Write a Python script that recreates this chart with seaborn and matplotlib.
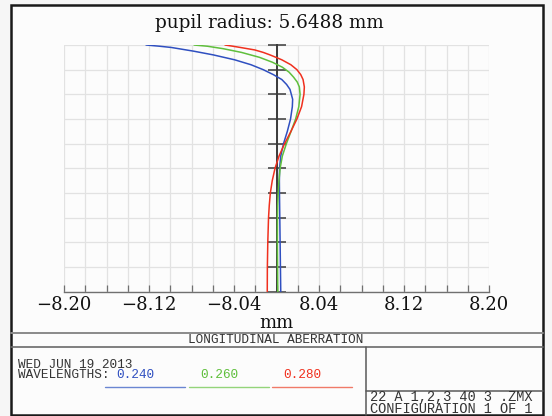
import numpy as np
import pandas as pd
import matplotlib
matplotlib.use("Agg")
import matplotlib.pyplot as plt
from matplotlib.lines import Line2D
from matplotlib.patches import Rectangle
from matplotlib.ticker import MultipleLocator
import seaborn as sns

# ---------------- data ----------------
wavelengths = ["0.240", "0.260", "0.280"]

pupil_blue = [0.0, 0.1, 0.2, 0.3, 0.4, 0.45, 0.5, 0.55, 0.6, 0.65, 0.7, 0.75,
              0.78, 0.82, 0.84, 0.86, 0.88, 0.90, 0.92, 0.94, 0.96, 0.975,
              0.99, 0.995, 1.0]
focus_blue = [0.0040, 0.0037, 0.0034, 0.0031, 0.0028, 0.0027, 0.0029, 0.0040,
              0.0066, 0.0102, 0.0132, 0.0149, 0.0152, 0.0127, 0.0095, 0.0050,
              -0.0030, -0.0125, -0.0240, -0.0394, -0.0596, -0.0780, -0.0990,
              -0.1100, -0.1228]

pupil_green = [0.0, 0.1, 0.2, 0.3, 0.35, 0.4, 0.45, 0.5, 0.55, 0.6, 0.65, 0.7,
               0.75, 0.8, 0.83, 0.85, 0.87, 0.89, 0.91, 0.93, 0.95, 0.97,
               0.985, 0.995, 1.0]
focus_green = [0.0012, 0.0010, 0.0008, 0.0009, 0.0011, 0.0016, 0.0023, 0.0034,
               0.0055, 0.0093, 0.0137, 0.0180, 0.0210, 0.0222, 0.0215, 0.0195,
               0.0160, 0.0118, 0.0055, -0.0038, -0.0160, -0.0330, -0.0501,
               -0.0650, -0.0776]

pupil_red = [0.0, 0.1, 0.2, 0.3, 0.35, 0.4, 0.45, 0.5, 0.55, 0.6, 0.65, 0.7,
             0.75, 0.8, 0.83, 0.86, 0.88, 0.90, 0.92, 0.94, 0.95, 0.96, 0.97,
             0.98, 0.99, 0.995, 1.0]
focus_red = [-0.0087, -0.0086, -0.0082, -0.0075, -0.0068, -0.0058, -0.0040,
             -0.0014, 0.0024, 0.0076, 0.0136, 0.0192, 0.0236, 0.0258, 0.0262,
             0.0250, 0.0228, 0.0192, 0.0135, 0.0050, -0.0005, -0.0062,
             -0.0125, -0.0205, -0.0340, -0.0410, -0.0485]

xtick_values = [-0.20, -0.12, -0.04, 0.04, 0.12, 0.20]
xtick_labels = ["\u22128.20", "\u22128.12", "\u22128.04", "8.04", "8.12", "8.20"]

title_text = "pupil radius: 5.6488 mm"
xlabel_text = "mm"
plot_name = "LONGITUDINAL ABERRATION"
date_text = "WED JUN 19 2013"
wl_label = "WAVELENGTHS:"
file_text = "22 A 1,2,3 40 3 .ZMX"
config_text = "CONFIGURATION 1 OF 1"

line_colors = ["#2f4fc0", "#5fbf3c", "#f0301e"]
under_colors = ["#6a86d2", "#94d47a", "#f07a68"]

# ---------------- build table ----------------
frames = []
for wl, p, f in zip(wavelengths, [pupil_blue, pupil_green, pupil_red],
                    [focus_blue, focus_green, focus_red]):
    frames.append(pd.DataFrame({"focus": f, "pupil": p, "wavelength": wl}))
df = pd.concat(frames, ignore_index=True)

# ---------------- figure ----------------
sns.set_style("white")
W, H = 552, 416
fig = plt.figure(figsize=(W / 100, H / 100), dpi=100)
fig.patch.set_facecolor("#f6f6f6")

def fx(px):
    return px / W

def fy(py):
    return 1 - py / H

# outer frame
fig.add_artist(Rectangle((fx(11), fy(415)), fx(543) - fx(11), fy(5) - fy(415),
                         transform=fig.transFigure, facecolor="#fcfcfc",
                         edgecolor="#1a1a1a", linewidth=1.8, zorder=0))

ax = fig.add_axes([fx(64), fy(291.7), fx(489) - fx(64), fy(45) - fy(291.7)])
ax.set_facecolor("none")

sns.lineplot(data=df, x="focus", y="pupil", hue="wavelength", palette=line_colors,
             sort=False, estimator=None, orient="y", linewidth=1.1, legend=False,
             ax=ax, zorder=3)

ax.set_xlim(-0.2, 0.2)
ax.set_ylim(0, 1)
ax.xaxis.set_major_locator(plt.FixedLocator(xtick_values))
ax.set_xticklabels(xtick_labels)
ax.xaxis.set_minor_locator(MultipleLocator(0.02))
ax.yaxis.set_major_locator(MultipleLocator(0.1))
ax.grid(True, which="both", axis="x", color="#e2e2e2", linewidth=0.9)
ax.grid(True, which="major", axis="y", color="#e2e2e2", linewidth=0.9)
ax.set_axisbelow(True)

for s in ["top", "right"]:
    ax.spines[s].set_visible(False)
ax.spines["bottom"].set_color("#707070")
ax.spines["bottom"].set_linewidth(1.0)
ax.spines["left"].set_position(("data", 0))
ax.spines["left"].set_color("#3a3a3a")
ax.spines["left"].set_linewidth(1.4)
ax.spines["left"].set_zorder(2)

ax.tick_params(axis="y", which="major", left=True, direction="inout", length=13,
               width=1.1, color="#3a3a3a", labelleft=False)
ax.tick_params(axis="x", which="both", bottom=True, direction="in", length=5,
               width=0.9, color="#707070", pad=3)
for lab in ax.get_xticklabels():
    lab.set_family("DejaVu Serif")
    lab.set_fontsize(13)
    lab.set_color("#111111")

ax.set_xlabel(xlabel_text, family="DejaVu Serif", fontsize=13, labelpad=0,
              color="#111111")
ax.set_ylabel("")

fig.text(fx(269), fy(23.5), title_text, ha="center", va="center",
         family="DejaVu Serif", fontsize=13.2, color="#111111")

# ---------------- bottom info box ----------------
def hline(y, x0, x1, color, lw):
    fig.add_artist(Line2D([fx(x0), fx(x1)], [fy(y), fy(y)],
                          transform=fig.transFigure, color=color, linewidth=lw))

def vline(x, y0, y1, color, lw):
    fig.add_artist(Line2D([fx(x), fx(x)], [fy(y0), fy(y1)],
                          transform=fig.transFigure, color=color, linewidth=lw))

hline(332.7, 11, 543, "#8a8a8a", 1.4)
hline(346.5, 11, 543, "#6a6a6a", 1.2)
vline(365.5, 346.5, 415, "#5a5a5a", 1.1)
hline(390.5, 365.5, 543, "#5a5a5a", 1.1)

mono = "Liberation Mono"
fig.text(fx(276), fy(340), plot_name, ha="center", va="center",
         family=mono, fontsize=9.2, color="#333333")
fig.text(fx(18.5), fy(365), date_text, ha="left", va="center",
         family=mono, fontsize=9.2, color="#333333")
fig.text(fx(18.5), fy(375.5), wl_label, ha="left", va="center",
         family=mono, fontsize=9.2, color="#333333")

wl_x = [116.5, 200.5, 283.5]
ul_x = [(105, 185), (189, 269), (272, 352)]
for wl, c, uc, tx, (u0, u1) in zip(wavelengths, line_colors, under_colors, wl_x, ul_x):
    fig.text(fx(tx), fy(375.5), wl, ha="left", va="center",
             family=mono, fontsize=9.2, color=c)
    hline(386.5, u0, u1, uc, 1.0)

fig.text(fx(370), fy(396.5), file_text, ha="left", va="center",
         family=mono, fontsize=9.8, color="#333333")
fig.text(fx(370), fy(409), config_text, ha="left", va="center",
         family=mono, fontsize=9.8, color="#333333")

fig.savefig("out.png", dpi=100, facecolor=fig.get_facecolor())
